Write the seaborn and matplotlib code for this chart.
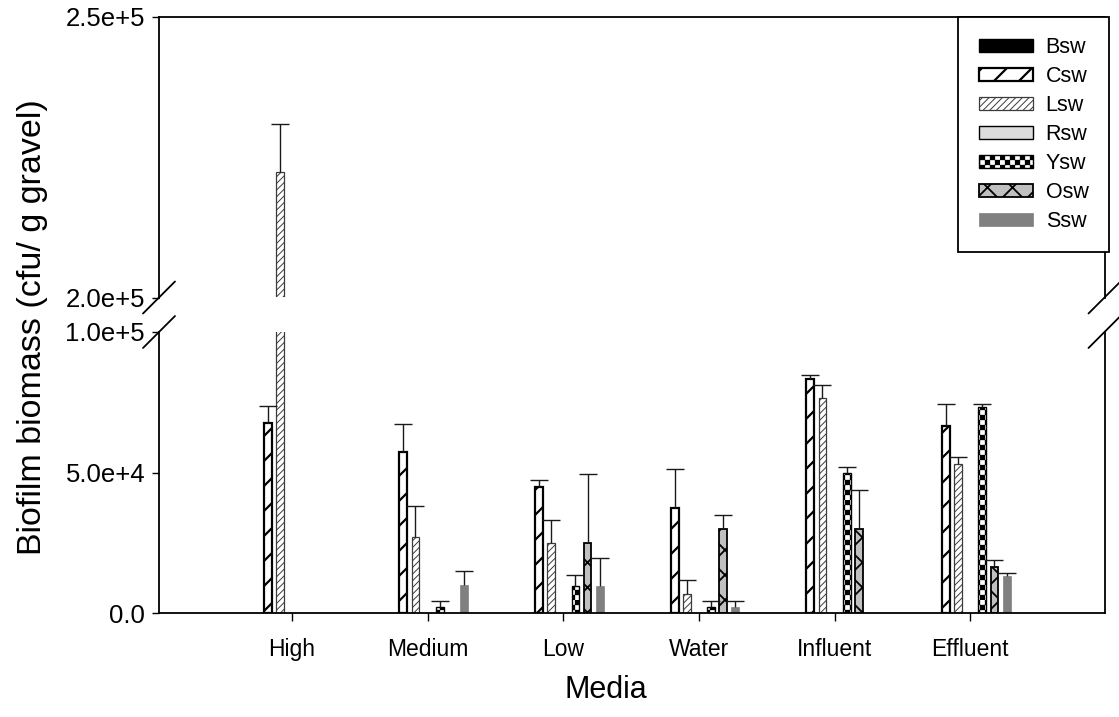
import numpy as np
import pandas as pd
import matplotlib
matplotlib.use("Agg")
import matplotlib.pyplot as plt
import matplotlib.hatch as mhatch
from matplotlib.path import Path
from matplotlib.patches import Rectangle
import seaborn as sns

# ---------------- data ----------------
categories = ["High", "Medium", "Low", "Water", "Influent", "Effluent"]
series = ["Bsw", "Csw", "Lsw", "Rsw", "Ysw", "Osw", "Ssw"]
nan = np.nan
bsw = [nan, nan, nan, nan, nan, nan]
csw = [67500, 57400, 44900, 37600, 83300, 66700]
lsw = [222400, 27200, 24900, 7000, 76400, 52900]
rsw = [nan, nan, nan, nan, nan, nan]
ysw = [nan, 2200, 9800, 2400, 49900, 73400]
osw = [nan, nan, 24900, 29900, 29800, 16500]
ssw = [nan, 10000, 9800, 2400, nan, 13300]

bsw_err = [nan, nan, nan, nan, nan, nan]
csw_err = [6200, 10000, 2400, 13800, 1400, 7800]
lsw_err = [8500, 10900, 8300, 4900, 4800, 2700]
rsw_err = [nan, nan, nan, nan, nan, nan]
ysw_err = [nan, 2200, 3800, 2000, 2000, 1100]
osw_err = [nan, nan, 24700, 4900, 14100, 2600]
ssw_err = [nan, 5200, 9700, 2000, nan, 1000]

values = [bsw, csw, lsw, rsw, ysw, osw, ssw]
errors = [bsw_err, csw_err, lsw_err, rsw_err, ysw_err, osw_err, ssw_err]

lower_ticks = [0, 50000, 100000]
lower_labels = ["0.0", "5.0e+4", "1.0e+5"]
upper_ticks = [200000, 250000]
upper_labels = ["2.0e+5", "2.5e+5"]

# ---------------- custom hatch densities / checkerboard ----------------
class NEHatch(mhatch.NorthEastHatch):
    def __init__(self, hatch, density):
        n = hatch.count('/')
        nx = hatch.count('x')
        lines = {0: 0, 1: 8, 2: 30}.get(n, int(n * density))
        if nx:
            lines = 8 * nx
        self.num_lines = lines
        self.num_vertices = (lines + 1) * 2 if lines else 0


class SEHatch(mhatch.SouthEastHatch):
    def __init__(self, hatch, density):
        n = hatch.count('\\')
        nx = hatch.count('x')
        lines = int(n * density)
        if nx:
            lines = 8 * nx
        self.num_lines = lines
        self.num_vertices = (lines + 1) * 2 if lines else 0


class CheckerHatch(mhatch.HatchPatternBase):
    def __init__(self, hatch, density):
        self.n = 10 if 'O' in hatch else 0
        self.num_vertices = 2 * self.n * self.n * 5

    def set_vertices_and_codes(self, vertices, codes):
        n = self.n
        s = 0.5 / n
        base = np.array([[0, 0], [s, 0], [s, s], [0, s], [0, 0]], float)
        parts = []
        for i in range(n):
            for j in range(n):
                parts.append(base + [i / n, j / n])
                parts.append(base + [i / n + s, j / n + s])
        vertices[:] = np.concatenate(parts)
        c = np.array([Path.MOVETO, Path.LINETO, Path.LINETO, Path.LINETO,
                      Path.CLOSEPOLY], dtype=codes.dtype)
        codes[:] = np.tile(c, 2 * n * n)


new_types = []
for t in mhatch._hatch_types:
    if t is mhatch.NorthEastHatch:
        new_types.append(NEHatch)
    elif t is mhatch.SouthEastHatch:
        new_types.append(SEHatch)
    elif t is mhatch.LargeCircles:
        new_types.append(CheckerHatch)
    else:
        new_types.append(t)
mhatch._hatch_types[:] = new_types

# ---------------- styles ----------------
styles = {
    "Bsw": dict(fc="black", ec="black", hatch="", lw=1.0, hlw=1.0),
    "Csw": dict(fc="white", ec="black", hatch="/", lw=1.6, hlw=1.6),
    "Lsw": dict(fc="white", ec="#3c3c3c", hatch="//", lw=0.9, hlw=0.7),
    "Rsw": dict(fc="#dcdcdc", ec="black", hatch="", lw=1.0, hlw=1.0),
    "Ysw": dict(fc="white", ec="black", hatch="O", lw=1.0, hlw=0.2),
    "Osw": dict(fc="#c0c0c0", ec="black", hatch="x", lw=1.3, hlw=1.3),
    "Ssw": dict(fc="#808080", ec="#808080", hatch="", lw=0.5, hlw=0.5),
}


def style_patch(p, st):
    p.set_facecolor(st["fc"])
    p.set_edgecolor(st["ec"])
    p.set_linewidth(st["lw"])
    p.set_hatch(st["hatch"] if st["hatch"] else None)
    if hasattr(p, "set_hatch_linewidth"):
        p.set_hatch_linewidth(st["hlw"])
    else:
        p._hatch_linewidth = st["hlw"]


sns.set_style("white")
plt.rcParams["font.family"] = ["Liberation Sans", "DejaVu Sans"]
plt.rcParams["hatch.linewidth"] = 1.2
plt.rcParams["axes.edgecolor"] = "black"
plt.rcParams["axes.linewidth"] = 1.3
plt.rcParams["text.color"] = "black"
plt.rcParams["axes.labelcolor"] = "black"
plt.rcParams["xtick.color"] = "black"
plt.rcParams["ytick.color"] = "black"

rows = []
for s, vals in zip(series, values):
    for c, v in zip(categories, vals):
        rows.append({"Media": c, "Series": s, "Value": v})
df = pd.DataFrame(rows)

W = 7 * 0.0895  # total group width in category units
GAP = 0.36
palette = {s: styles[s]["fc"] for s in series}

fig = plt.figure(figsize=(11.19, 7.17), dpi=100)
L, Wd = 159 / 1119, (1104.5 - 159) / 1119
ax_top = fig.add_axes([L, 1 - 297.5 / 717, Wd, (297.5 - 17) / 717])
ax_bot = fig.add_axes([L, 1 - 613.3 / 717, Wd, (613.3 - 332) / 717])

for ax in (ax_top, ax_bot):
    sns.barplot(data=df, x="Media", y="Value", hue="Series", order=categories,
                hue_order=series, palette=palette, saturation=1, width=W,
                gap=GAP, errorbar=None, legend=False, ax=ax)
    xs, tops, errs = [], [], []
    for p in ax.patches:
        h = p.get_height()
        if not np.isfinite(h):
            continue
        cx = p.get_x() + p.get_width() / 2
        ci = int(round(cx))
        k = int(round((cx - ci + W / 2) / (W / 7) - 0.5))
        style_patch(p, styles[series[k]])
        e = errors[k][ci]
        if np.isfinite(e):
            xs.append(cx)
            tops.append(h)
            errs.append(e)
    xs, tops, errs = map(np.array, (xs, tops, errs))
    ax.vlines(xs, tops, tops + errs, color="#1a1a1a", lw=1.0, zorder=5)
    ax.plot(xs, tops + errs, ls="none", marker="_", ms=12.5, mew=1.0,
            color="#1a1a1a", zorder=5)
    ax.set_xlim(-0.98, 5.99)
    ax.set_xlabel("")
    ax.set_ylabel("")
    for sp in ax.spines.values():
        sp.set_color("black")
        sp.set_linewidth(1.3)
    ax.tick_params(axis="y", direction="out", length=5, width=1.0,
                   labelsize=18.5, pad=5, left=True, colors="black")

ax_bot.set_ylim(0, 100000)
ax_top.set_ylim(200000, 250000)
ax_bot.set_yticks(lower_ticks, lower_labels)
ax_top.set_yticks(upper_ticks, upper_labels)
ax_bot.tick_params(axis="x", direction="out", length=6, width=1.0,
                   labelsize=16.5, pad=12, bottom=True, colors="black")
ax_top.tick_params(axis="x", bottom=False, labelbottom=False)
ax_top.spines["bottom"].set_visible(False)
ax_bot.spines["top"].set_visible(False)

# break marks
dxp, dyp = 16.0, 16.0
axw = 1104.5 - 159
for x0 in (0, 1):
    dx = dxp / axw
    ax_top.plot([x0 - dx, x0 + dx], [-dyp / 280.5, dyp / 280.5],
                transform=ax_top.transAxes, color="black", lw=1.3,
                clip_on=False)
    ax_bot.plot([x0 - dx, x0 + dx], [1 - dyp / 281.3, 1 + dyp / 281.3],
                transform=ax_bot.transAxes, color="black", lw=1.3,
                clip_on=False)

# legend
handles = []
for s in series:
    st = styles[s]
    r = Rectangle((0, 0), 1, 1, facecolor=st["fc"], edgecolor=st["ec"],
                  linewidth=st["lw"], hatch=st["hatch"] if st["hatch"] else None)
    handles.append(r)
leg = ax_top.legend(handles, series, loc="upper right",
                    bbox_to_anchor=(1109 / 1119, 1 - 16.7 / 717),
                    bbox_transform=fig.transFigure, borderaxespad=0,
                    fontsize=15.5, handlelength=2.5, handleheight=0.6,
                    handletextpad=0.6, labelspacing=0.37, borderpad=0.95,
                    fancybox=False, framealpha=1, edgecolor="black")
leg.get_frame().set_linewidth(1.3)
for p, s in zip(leg.get_patches(), series):
    style_patch(p, styles[s])
for t in leg.get_texts():
    t.set_color("black")
leg.set_zorder(10)

fig.text(33 / 1119, 1 - 327 / 717, "Biofilm biomass (cfu/ g gravel)",
         rotation=90, ha="center", va="center", fontsize=24.5, color="black")
fig.text(606 / 1119, 1 - 690 / 717, "Media", ha="center", va="center",
         fontsize=22, color="black")

fig.savefig("out.png", dpi=100)
